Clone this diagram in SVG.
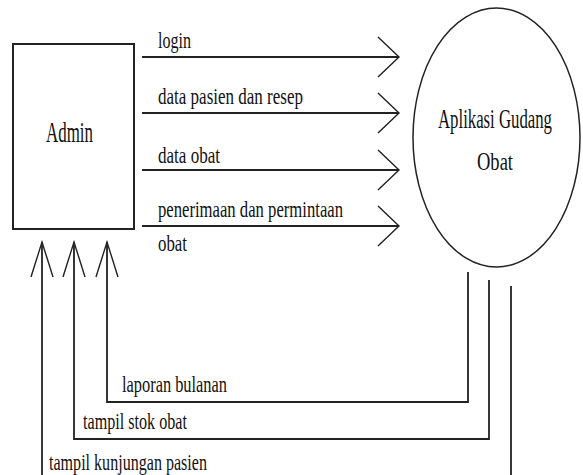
<svg xmlns="http://www.w3.org/2000/svg" width="583" height="475" viewBox="0 0 583 475">
<style>
.t{font-family:"Liberation Serif","Times New Roman",serif;fill:#111;}
.lbl{font-size:16.5px;}
.ln{fill:none;stroke:#222;stroke-width:1.8;}
.ah{fill:none;stroke:#222;stroke-width:1.4;}
</style>
<rect width="583" height="475" fill="#fff"/>
<g id="admin">
<rect x="13" y="44" width="121" height="185" fill="#fff" stroke="#222" stroke-width="2"/>
<text class="t" transform="translate(46,142) scale(1,1.75)" font-size="17" textLength="47" lengthAdjust="spacingAndGlyphs">Admin</text>
</g>
<g id="aplikasi">
<ellipse cx="496.5" cy="137.5" rx="83.5" ry="129.5" fill="#fff" stroke="#222" stroke-width="1.5"/>
<text class="t" transform="translate(438,128) scale(1,1.6)" font-size="17" textLength="114" lengthAdjust="spacingAndGlyphs">Aplikasi Gudang</text>
<text class="t" transform="translate(477,170) scale(1,1.45)" font-size="17.5" textLength="36" lengthAdjust="spacingAndGlyphs">Obat</text>
</g>
<g id="connectors">
<path class="ln" d="M142,57 H399"/>
<path class="ah" d="M378,37 L399,57 L378,77"/>
<path class="ln" d="M142,113 H399"/>
<path class="ah" d="M378,93 L399,113 L378,133"/>
<path class="ln" d="M142,170 H399"/>
<path class="ah" d="M378,150 L399,170 L378,190"/>
<path class="ln" d="M142,226 H399"/>
<path class="ah" d="M378,206 L399,226 L378,246"/>
<path class="ln" d="M468,272 V402 H107 V242"/>
<path class="ah" d="M96,277 L107,242 L118,277"/>
<path class="ln" d="M489,280 V439 H74 V242"/>
<path class="ah" d="M63,277 L74,242 L85,277"/>
<path class="ln" d="M511,286 V475"/>
<path class="ln" d="M42,475 V242"/>
<path class="ah" d="M31,277 L42,242 L53,277"/>
</g>
<g id="labels">
<text class="t lbl" transform="translate(158,48) scale(1,1.45)" textLength="33" lengthAdjust="spacingAndGlyphs">login</text>
<text class="t lbl" transform="translate(158,104) scale(1,1.45)" textLength="145" lengthAdjust="spacingAndGlyphs">data pasien dan resep</text>
<text class="t lbl" transform="translate(158,163) scale(1,1.45)" textLength="62" lengthAdjust="spacingAndGlyphs">data obat</text>
<text class="t lbl" transform="translate(158,217) scale(1,1.45)" textLength="185" lengthAdjust="spacingAndGlyphs">penerimaan dan permintaan</text>
<text class="t lbl" transform="translate(158,251) scale(1,1.45)" textLength="29" lengthAdjust="spacingAndGlyphs">obat</text>
<text class="t lbl" transform="translate(122,392) scale(1,1.45)" textLength="105" lengthAdjust="spacingAndGlyphs">laporan bulanan</text>
<text class="t lbl" transform="translate(83,429) scale(1,1.45)" textLength="104" lengthAdjust="spacingAndGlyphs">tampil stok obat</text>
<text class="t lbl" transform="translate(49,470) scale(1,1.45)" textLength="158" lengthAdjust="spacingAndGlyphs">tampil kunjungan pasien</text>
</g>
</svg>
